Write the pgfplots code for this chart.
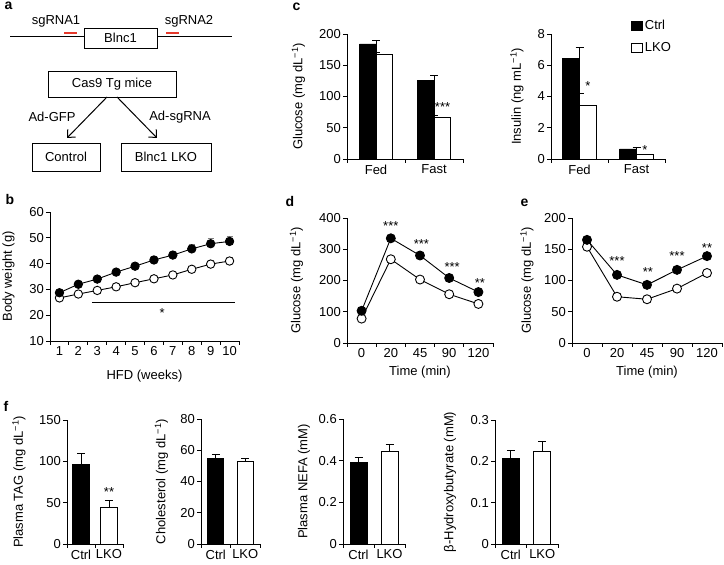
\documentclass[border=0pt]{standalone}
\usepackage{fontspec}
\setmainfont{Liberation Sans}
\usepackage{pgfplots}
\pgfplotsset{compat=1.18}
\usetikzlibrary{arrows.meta}
\definecolor{sgred}{RGB}{229,57,43}
\newcommand{\fs}{\fontsize{13bp}{15bp}\selectfont}
\newcommand{\lf}{\fontsize{14bp}{16bp}\selectfont\bfseries}
\pgfplotsset{
  panel/.style={
    scale only axis,
    axis x line*=bottom, axis y line*=left,
    axis line style={line width=0.9bp, black},
    tick align=outside,
    major tick length=4bp,
    tick style={line width=0.9bp, black},
    tick label style={font=\fs},
    xticklabel style={inner ysep=1.5bp},
    yticklabel style={inner xsep=2bp},
    label style={font=\fs},
    /pgf/number format/assume math mode=true,
    /pgf/number format/fixed,
    x tick label as interval,
    clip=false,
  },
  cbar/.style={ybar, fill=black, draw=black, line width=0.9bp,
    error bars/y dir=plus, error bars/y explicit,
    error bars/error bar style={line width=0.9bp, black},
    error bars/error mark options={rotate=90, mark size=4bp, line width=0.9bp, black}},
  kbar/.style={ybar, fill=white, draw=black, line width=0.9bp,
    error bars/y dir=plus, error bars/y explicit,
    error bars/error bar style={line width=0.9bp, black},
    error bars/error mark options={rotate=90, mark size=4bp, line width=0.9bp, black}},
  cline/.style={black, line width=0.9bp, mark=*, mark size=#1,
    mark options={fill=black, draw=black, line width=0.9bp},
    error bars/y dir=plus, error bars/y explicit,
    error bars/error bar style={line width=0.8bp, gray},
    error bars/error mark options={rotate=90, mark size=3bp, line width=0.8bp, gray}},
  kline/.style={black, line width=0.9bp, mark=*, mark size=#1,
    mark options={fill=white, draw=black, line width=0.9bp},
    error bars/y dir=plus, error bars/y explicit,
    error bars/error bar style={line width=0.8bp, gray},
    error bars/error mark options={rotate=90, mark size=3bp, line width=0.8bp, gray}},
}
\tikzset{sig/.style={font=\fs, inner sep=0pt, yshift=-3bp}}

\pgfplotstableread{
w c ce k ke
1 28.7 0.8 26.7 0.7
2 32.0 0.8 28.2 0.7
3 34.0 0.9 29.6 0.8
4 36.7 1.0 31.0 0.8
5 39.0 1.0 32.6 0.9
6 41.4 1.2 34.1 1.0
7 43.3 1.5 35.6 1.0
8 45.7 1.8 37.8 1.2
9 47.7 2.0 39.8 1.5
10 48.6 1.8 41.0 1.5
}\bw

\pgfplotstableread{
t c ce k ke
0 103 8 78 5
1 335 8 268 6
2 280 7 203 6
3 208 6 156 5
4 163 6 125 5
}\gtt

\pgfplotstableread{
t c ce k ke
0 165 6 154 4
1 109 5 74 3
2 93 4 70 3
3 117 4 87 3
4 139 4 112 3
}\itt

\begin{document}
\begin{tikzpicture}[x=1bp,y=1bp]
\useasboundingbox (0,0) rectangle (724,565);

% ---------------- panel a ----------------
\node[anchor=base west, font=\lf] at (1,555) {a};
\draw[line width=1bp] (10,528) -- (84,528);
\draw[line width=1bp] (157,528) -- (232,528);
\draw[line width=0.9bp] (84,537) rectangle (157,517);
\node[font=\fs] at (120.5,527) {Blnc1};
\draw[sgred, line width=2.5bp] (64,532) -- (77,532);
\draw[sgred, line width=2.5bp] (166,532) -- (179,532);
\node[font=\fs] at (56,544) {sgRNA1};
\node[font=\fs] at (189,544) {sgRNA2};
\draw[line width=0.9bp] (48,494) rectangle (176,468);
\node[font=\fs] at (112,481) {Cas9 Tg mice};
\draw[line width=1bp, -{Straight Barb[length=6bp,width=11bp]}] (107,468) -- (67,427);
\draw[line width=1bp, -{Straight Barb[length=6bp,width=11bp]}] (117,468) -- (157,427);
\node[font=\fs] at (52,448) {Ad-GFP};
\node[font=\fs] at (180,448) {Ad-sgRNA};
\draw[line width=0.9bp] (32,422) rectangle (100,394);
\node[font=\fs] at (66,408) {Control};
\draw[line width=0.9bp] (121,422) rectangle (211,394);
\node[font=\fs] at (166,408) {Blnc1 LKO};

% ---------------- panel b ----------------
\node[anchor=base west, font=\lf] at (2,360) {b};
\begin{axis}[panel, at={(50bp,353bp)}, anchor=north west, width=189bp, height=129bp,
  xmin=0.5, xmax=10.5, ymin=10, ymax=60,
  xtick={0.5,1.5,2.5,3.5,4.5,5.5,6.5,7.5,8.5,9.5,10.5},
  xticklabels={1,2,3,4,5,6,7,8,9,10},
  ytick={10,20,30,40,50,60},
  xlabel={HFD (weeks)}, ylabel={Body weight (g)},
  xlabel style={at={(axis description cs:0.5,-0.275)}, anchor=center},
  ylabel style={at={(axis description cs:-0.22,0.5)}, anchor=center},
]
\addplot[kline=4.2bp] table[x=w, y=k, y error=ke] {\bw};
\addplot[cline=4.2bp] table[x=w, y=c, y error=ce] {\bw};
\draw[line width=0.9bp] (axis cs:2.72,24.9) -- (axis cs:10.29,24.9);
\node[sig] at (axis cs:6.43,22.0) {*};
\end{axis}

% ---------------- panel c ----------------
\node[anchor=base west, font=\lf] at (289,554.5) {c};
\begin{axis}[panel, at={(347bp,531bp)}, anchor=north west, width=116bp, height=125bp,
  xmin=0, xmax=2, ymin=0, ymax=200,
  xtick={0,1,2}, xticklabels={Fed,Fast},
  ytick={0,50,100,150,200},
  ylabel={Glucose (mg dL\textsuperscript{−1})},
  ylabel style={at={(axis description cs:-0.418,0.5)}, anchor=center},
]
\addplot[cbar, bar width=16.5bp, bar shift=-8.25bp] coordinates {(0.5,184) +- (0,5) (1.5,125) +- (0,9)};
\addplot[kbar, bar width=16.5bp, bar shift=8.25bp] coordinates {(0.5,168) +- (0,2) (1.5,67) +- (0,3)};
\node[sig] at (axis cs:1.647,88) {***};
\end{axis}

\begin{axis}[panel, at={(551bp,531bp)}, anchor=north west, width=114bp, height=125bp,
  xmin=0, xmax=2, ymin=0, ymax=8,
  xtick={0,1,2}, xticklabels={Fed,Fast},
  ytick={0,2,4,6,8},
  ylabel={Insulin (ng mL\textsuperscript{−1})},
  ylabel style={at={(axis description cs:-0.298,0.5)}, anchor=center},
  legend image code/.code={\draw[#1, line width=0.9bp] (0bp,-4.5bp) rectangle (11bp,4.5bp);},
  legend style={draw=none, fill=none, at={(axis description cs:0.70,1.125)}, anchor=north west,
    font=\fs, row sep=7bp, inner sep=0pt},
  legend cell align=left,
]
\addlegendimage{fill=black, draw=black}
\addlegendentry{Ctrl}
\addlegendimage{fill=white, draw=black}
\addlegendentry{LKO}
\addplot[cbar, bar width=17bp, bar shift=-8.5bp] coordinates {(0.5,6.45) +- (0,0.7) (1.5,0.64) +- (0,0.13)};
\addplot[kbar, bar width=17bp, bar shift=8.5bp] coordinates {(0.5,3.41) +- (0,0.8) (1.5,0.26) +- (0,0.05)};
\node[sig] at (axis cs:0.649,4.87) {*};
\node[sig] at (axis cs:1.649,0.75) {*};
\end{axis}

% ---------------- panel d ----------------
\node[anchor=base west, font=\lf] at (282,358) {d};
\begin{axis}[panel, at={(347bp,347bp)}, anchor=north west, width=146bp, height=125bp,
  xmin=-0.5, xmax=4.5, ymin=0, ymax=400,
  xtick={-0.5,0.5,1.5,2.5,3.5,4.5}, xticklabels={0,20,45,90,120},
  ytick={0,100,200,300,400},
  xlabel={Time (min)}, ylabel={Glucose (mg dL\textsuperscript{−1})},
  xlabel style={at={(axis description cs:0.5,-0.232)}, anchor=center},
  ylabel style={at={(axis description cs:-0.346,0.5)}, anchor=center},
]
\addplot[kline=4.5bp] table[x=t, y=k, y error=ke] {\gtt};
\addplot[cline=4.5bp] table[x=t, y=c, y error=ce] {\gtt};
\node[sig] at (axis cs:1,383) {***};
\node[sig] at (axis cs:2.05,325) {***};
\node[sig] at (axis cs:3.1,252) {***};
\node[sig] at (axis cs:4.05,200) {**};
\end{axis}

% ---------------- panel e ----------------
\node[anchor=base west, font=\lf] at (517,358) {e};
\begin{axis}[panel, at={(572bp,347bp)}, anchor=north west, width=150bp, height=125bp,
  xmin=-0.5, xmax=4.5, ymin=0, ymax=200,
  xtick={-0.5,0.5,1.5,2.5,3.5,4.5}, xticklabels={0,20,45,90,120},
  ytick={0,50,100,150,200},
  xlabel={Time (min)}, ylabel={Glucose (mg dL\textsuperscript{−1})},
  xlabel style={at={(axis description cs:0.5,-0.232)}, anchor=center},
  ylabel style={at={(axis description cs:-0.30,0.5)}, anchor=center},
]
\addplot[kline=4.5bp] table[x=t, y=k, y error=ke] {\itt};
\addplot[cline=4.5bp] table[x=t, y=c, y error=ce] {\itt};
\node[sig] at (axis cs:1,135.5) {***};
\node[sig] at (axis cs:2.03,118) {**};
\node[sig] at (axis cs:3,143.5) {***};
\node[sig] at (axis cs:4,156) {**};
\end{axis}

% ---------------- panel f ----------------
\node[anchor=base west, font=\lf] at (0,153) {f};
\begin{axis}[panel, at={(67bp,145bp)}, anchor=north west, width=56bp, height=124bp,
  xmin=-0.5, xmax=1.5, ymin=0, ymax=150,
  xtick={-0.5,0.5,1.5}, xticklabels={Ctrl,LKO},
  ytick={0,50,100,150},
  ylabel={Plasma TAG (mg dL\textsuperscript{−1})},
  ylabel style={at={(axis description cs:-0.857,0.5)}, anchor=center},
]
\addplot[cbar, bar width=17bp, bar shift=0bp] coordinates {(0,96) +- (0,14)};
\addplot[kbar, bar width=17bp, bar shift=0bp] coordinates {(1,44) +- (0,9)};
\node[sig] at (axis cs:1,66.7) {**};
\end{axis}

\begin{axis}[panel, at={(201bp,146bp)}, anchor=north west, width=59bp, height=125bp,
  xmin=-0.5, xmax=1.5, ymin=0, ymax=80,
  xtick={-0.5,0.5,1.5}, xticklabels={Ctrl,LKO},
  ytick={0,20,40,60,80},
  ylabel={Cholesterol (mg dL\textsuperscript{−1})},
  ylabel style={at={(axis description cs:-0.67,0.5)}, anchor=center},
]
\addplot[cbar, bar width=16bp, bar shift=0bp] coordinates {(0,55) +- (0,2)};
\addplot[kbar, bar width=16bp, bar shift=0bp] coordinates {(1,53) +- (0,1.5)};
\end{axis}

\begin{axis}[panel, at={(343bp,146bp)}, anchor=north west, width=62bp, height=125bp,
  xmin=-0.5, xmax=1.5, ymin=0, ymax=0.6,
  xtick={-0.5,0.5,1.5}, xticklabels={Ctrl,LKO},
  ytick={0,0.2,0.4,0.6},
  ylabel={Plasma NEFA (mM)},
  ylabel style={at={(axis description cs:-0.63,0.5)}, anchor=center},
]
\addplot[cbar, bar width=17bp, bar shift=0bp] coordinates {(0,0.39) +- (0,0.025)};
\addplot[kbar, bar width=17bp, bar shift=0bp] coordinates {(1,0.445) +- (0,0.033)};
\end{axis}

\begin{axis}[panel, at={(495bp,145bp)}, anchor=north west, width=63bp, height=124bp,
  xmin=-0.5, xmax=1.5, ymin=0, ymax=0.3,
  xtick={-0.5,0.5,1.5}, xticklabels={Ctrl,LKO},
  ytick={0,0.1,0.2,0.3},
  ylabel={β-Hydroxybutyrate (mM)},
  ylabel style={at={(axis description cs:-0.714,0.5)}, anchor=center},
]
\addplot[cbar, bar width=17bp, bar shift=0bp] coordinates {(0,0.207) +- (0,0.019)};
\addplot[kbar, bar width=17bp, bar shift=0bp] coordinates {(1,0.223) +- (0,0.024)};
\end{axis}
\end{tikzpicture}
\end{document}
